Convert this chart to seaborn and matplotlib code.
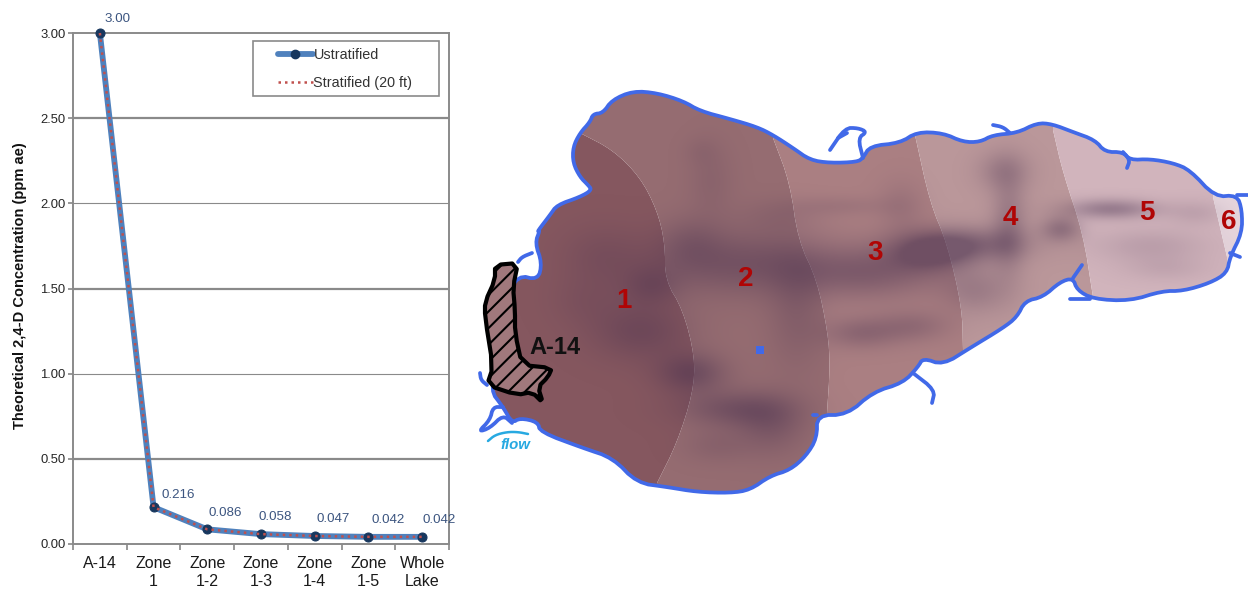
import numpy as np
import pandas as pd
import matplotlib
matplotlib.use('Agg')
import matplotlib.pyplot as plt
from matplotlib.patches import Polygon, Rectangle
from matplotlib.lines import Line2D
import seaborn as sns

categories = ['A-14', 'Zone\n1', 'Zone\n1-2', 'Zone\n1-3', 'Zone\n1-4', 'Zone\n1-5', 'Whole\nLake']
unstratified = [3.00, 0.216, 0.086, 0.058, 0.047, 0.042, 0.042]
stratified = [3.00, 0.216, 0.086, 0.058, 0.047, 0.042, 0.042]
value_labels = ['3.00', '0.216', '0.086', '0.058', '0.047', '0.042', '0.042']
y_ticks = [0, 0.5, 1.0, 1.5, 2.0, 2.5, 3.0]

# map shapes, in picture pixels
lake = [(540, 230), (537, 232), (550, 215), (557, 205), (580, 197), (592, 190), (588, 185),
        (580, 177), (573, 163), (573, 147), (580, 133), (590, 122), (593, 114), (603, 113), (612, 100),
        (633, 91), (657, 93), (683, 101), (700, 111), (730, 119), (757, 127), (773, 135), (793, 148),
        (810, 160), (830, 163), (857, 162), (863, 158), (870, 146), (900, 143), (917, 132), (943, 133),
        (963, 142), (980, 142), (993, 135), (1017, 133), (1037, 123), (1052, 124), (1073, 132), (1095, 140),
        (1105, 152), (1123, 152), (1130, 160), (1150, 159), (1173, 163), (1190, 170), (1215, 197), (1237, 195),
        (1242, 210), (1242, 233), (1230, 257), (1227, 273), (1210, 283), (1183, 291), (1162, 291), (1130, 301),
        (1093, 299), (1077, 290), (1073, 278), (1060, 282), (1043, 297), (1025, 301), (1017, 317), (1003, 328),
        (970, 348), (943, 365), (923, 358), (918, 367), (903, 383), (873, 392), (847, 415), (817, 415),
        (817, 438), (806, 456), (790, 470), (770, 476), (750, 490), (730, 493), (697, 492), (667, 487),
        (637, 483), (613, 458), (583, 448), (540, 432), (538, 422), (520, 418), (512, 423), (503, 407),
        (490, 390), (500, 360), (505, 300), (518, 275), (538, 280), (542, 263), (535, 243)]
a14 = [(495, 265), (518, 263), (513, 287), (515, 310), (515, 333), (522, 365), (552, 368), (548, 377),
       (538, 387), (543, 403), (532, 392), (517, 395), (487, 385), (493, 367), (485, 317), (485, 302), (495, 280)]
zone_edges = [
    [(580, 133), (613, 150), (640, 177), (657, 210), (665, 243), (665, 280), (683, 310), (695, 357), (693, 393), (677, 443), (657, 483)],
    [(773, 138), (790, 183), (798, 240), (817, 280), (828, 333), (830, 367), (827, 413)],
    [(915, 135), (930, 203), (947, 243), (962, 307), (963, 350)],
    [(1053, 130), (1063, 173), (1083, 233), (1093, 297)],
    [(1213, 197), (1227, 257)],
]
zone_colors = ['#85575f', '#956c71', '#aa7f82', '#ba979a', '#d1b4bc', '#e6d5dc']
zone_names = ['1', '2', '3', '4', '5', '6']
zone_label_x = [624, 746, 875, 1010, 1147, 1229]
zone_label_y = [301, 279, 253, 218, 213, 222]
# darker patches: x, y, x spread, y spread, strength
patches_dark = [(640, 330, 34, 20, .38), (690, 372, 24, 14, .5), (600, 255, 28, 22, .18), (585, 300, 25, 18, .14),
                (650, 285, 20, 14, .3), (710, 180, 16, 26, .14), (700, 150, 12, 10, .08), (740, 262, 70, 22, .42),
                (690, 240, 22, 18, .2), (735, 408, 40, 13, .42), (770, 425, 24, 20, .3), (795, 310, 20, 40, .22),
                (715, 445, 24, 12, .16), (780, 215, 30, 12, .12),
                (930, 250, 30, 14, .58), (870, 272, 50, 18, .38), (860, 332, 26, 11, .3), (912, 325, 26, 11, .25),
                (840, 205, 36, 7, .12), (900, 205, 16, 18, .15), (1003, 170, 18, 14, .26), (1008, 225, 12, 34, .3),
                (975, 243, 38, 12, .38), (1060, 228, 14, 9, .36), (975, 290, 24, 16, .24),
                (1110, 208, 32, 7, .42), (1150, 245, 40, 12, .16), (1195, 212, 20, 9, .13), (1165, 268, 30, 9, .1)]


def smooth(points, rounds=2, closed=True):
    pts = np.array(points, float)
    for _ in range(rounds):
        nxt = np.roll(pts, -1, axis=0)
        q = 0.75 * pts + 0.25 * nxt
        r = 0.25 * pts + 0.75 * nxt
        if closed:
            pts = np.column_stack([q, r]).reshape(-1, 2)
        else:
            mid = np.column_stack([q[:-1], r[:-1]]).reshape(-1, 2)
            pts = np.vstack([pts[0], mid, pts[-1]])
    return pts


sns.set_theme(style='white')
plt.rcParams['font.family'] = ['Liberation Sans', 'DejaVu Sans']
plt.rcParams['hatch.linewidth'] = 1.5

fig = plt.figure(figsize=(12.48, 5.90), dpi=100, facecolor='white')

# map
mp = fig.add_axes([0, 0, 1, 1], zorder=1)
mp.set_xlim(0, 1248)
mp.set_ylim(590, 0)
mp.axis('off')

blue = '#4169e8'
lake_smooth = smooth(lake, 2)
outline = Polygon(lake_smooth, closed=True, facecolor='none', edgecolor=blue, lw=2.7, zorder=5, joinstyle='round')
clip = Polygon(lake_smooth, closed=True, transform=mp.transData)

edges = [[tuple(q) for q in smooth(e, 2, closed=False)] for e in zone_edges]
for i in range(6):
    if i == 0:
        poly = [(470, 50), (edges[0][0][0], 50)] + edges[0] + [(edges[0][-1][0], 540), (470, 540)]
    elif i < 5:
        a, b = edges[i - 1], edges[i]
        poly = [(a[0][0], 50), (b[0][0], 50)] + b + [(b[-1][0], 540), (a[-1][0], 540)] + a[::-1]
    else:
        a = edges[4]
        poly = [(a[0][0], 50), (1248, 50), (1248, 540), (a[-1][0], 540)] + a[::-1]
    p = Polygon(poly, closed=True, facecolor=zone_colors[i], edgecolor='none', zorder=2)
    mp.add_patch(p)
    p.set_clip_path(clip)

gx, gy = np.meshgrid(np.arange(470, 1248, 2), np.arange(80, 500, 2))
shade = np.zeros(gx.shape)
for x, y, sx, sy, s in patches_dark:
    shade += s * np.exp(-((gx - x) / sx) ** 2 / 2 - ((gy - y) / sy) ** 2 / 2)
rgba = np.zeros(gx.shape + (4,))
rgba[..., :3] = (0.29, 0.19, 0.31)
rgba[..., 3] = np.clip(shade, 0, 0.6)
im = mp.imshow(rgba, extent=(470, 1248, 500, 80), origin='upper', zorder=3, aspect='auto', interpolation='bilinear')
im.set_clip_path(clip)
mp.set_xlim(0, 1248)
mp.set_ylim(590, 0)
mp.add_patch(outline)

inlets = [[(863, 158), (858, 138), (867, 132), (858, 128), (845, 128), (830, 150)],
          [(847, 133), (838, 138)],
          [(993, 125), (1003, 127), (1010, 133)],
          [(1123, 152), (1130, 160), (1127, 168)],
          [(1237, 195), (1248, 195)],
          [(1230, 253), (1240, 257)],
          [(1073, 278), (1082, 265)],
          [(1090, 299), (1070, 299)],
          [(913, 373), (935, 390), (932, 403)],
          [(817, 415), (813, 415)],
          [(518, 262), (522, 257), (532, 253)],
          [(480, 373), (481, 380), (487, 385)],
          [(503, 407), (493, 407), (490, 420), (478, 432), (490, 428), (503, 415), (512, 423)]]
for line in inlets:
    pts = smooth(line, 2, closed=False)
    mp.plot(pts[:, 0], pts[:, 1], color=blue, lw=2.7, solid_capstyle='round', zorder=5)
mp.scatter([760], [350], s=30, color=blue, marker='s', zorder=5, lw=0)

a14_smooth = smooth(a14, 1)
mp.add_patch(Polygon(a14_smooth, closed=True, facecolor='#a0787c', edgecolor='black', lw=0, hatch='//', zorder=6))
mp.add_patch(Polygon(a14_smooth, closed=True, facecolor='none', edgecolor='black', lw=3, zorder=7, joinstyle='round'))
mp.text(555, 347, 'A-14', fontsize=17, fontweight='bold', color='#111111', ha='center', va='center', zorder=8)

for name, x, y in zip(zone_names, zone_label_x, zone_label_y):
    mp.text(x, y, name, fontsize=20, fontweight='bold', color='#b00505', ha='center', va='center', zorder=8)

arc = smooth([(488, 441), (495, 435), (507, 432), (518, 432), (528, 434)], 2, closed=False)
mp.plot(arc[:, 0], arc[:, 1], color='#27a9e1', lw=1.8, zorder=8)
mp.text(515, 445, 'flow', fontsize=10.8, style='italic', fontweight='bold', color='#27a9e1', ha='center', va='center', zorder=8)

# chart
ax = fig.add_axes([73 / 1248, 1 - 544 / 590, (449 - 73) / 1248, (544 - 33) / 590], zorder=2)
df = pd.DataFrame({'pos': range(len(categories)), 'unstratified': unstratified, 'stratified': stratified})
sns.lineplot(data=df, x='pos', y='unstratified', ax=ax, color='#4f81bd', lw=4.2, marker='o', markersize=6.5,
             markerfacecolor='#17375e', markeredgecolor='#17375e', clip_on=False, zorder=4)
sns.lineplot(data=df, x='pos', y='stratified', ax=ax, color='#c0504d', lw=1.8, ls=(0, (1, 1.6)), clip_on=False, zorder=5)

ax.set_xlim(-0.5, 6.5)
ax.set_ylim(0, 3)
ax.set_xticks(range(len(categories)))
ax.set_xticklabels(categories, fontsize=11.5, color='#1a1a1a', linespacing=1.25)
ax.set_xticks(np.arange(-0.5, 7, 1), minor=True)
ax.tick_params(axis='x', which='major', length=0, pad=9)
ax.tick_params(axis='x', which='minor', length=4, width=1.2, color='#868686', bottom=True)
ax.set_yticks(y_ticks)
ax.set_yticklabels(['%.2f' % t for t in y_ticks], fontsize=9.4, color='#262626')
ax.tick_params(axis='y', length=3.5, width=1.2, color='#868686', left=True, pad=2)
ax.set_xlabel('')
ax.set_ylabel('Theoretical 2,4-D Concentration (ppm ae)', fontsize=10.5, fontweight='bold', color='#111111')
ax.yaxis.set_label_coords(-0.123, 0.505)

for t in y_ticks[1:-1]:
    ax.axhline(t, color='#8a8a8a', lw=1.6 if t in (0.5, 1.5, 2.5) else 0.8, zorder=1)
for s in ax.spines.values():
    s.set_color('#8a8a8a')
    s.set_linewidth(1.4)
    s.set_visible(True)

offsets = [(13, 10), (18, 9), (13, 12), (10, 12), (13, 12), (14, 12), (12, 12)]
for i, (lab, off) in enumerate(zip(value_labels, offsets)):
    ax.annotate(lab, (i, unstratified[i]), xytext=off, textcoords='offset points', ha='center', va='center',
                fontsize=9.6, color='#3c5580', annotation_clip=False, zorder=6)

ax.add_patch(Rectangle(((253 - 73) / 376, 1 - 96 / 511 + 33 / 511), 186 / 376, 55 / 511, transform=ax.transAxes,
                       facecolor='white', edgecolor='#8a8a8a', lw=1.2, zorder=3))
handles = [Line2D([], [], color='#4f81bd', lw=4.2, marker='o', markersize=6, markerfacecolor='#17375e', markeredgecolor='#17375e'),
           Line2D([], [], color='#c0504d', lw=1.8, ls=(0, (1, 1.6)))]
leg = ax.legend(handles, ['Ustratified', 'Stratified (20 ft)'], loc='upper left',
                bbox_to_anchor=((278 - 73) / 376, 1 - 15 / 511), borderaxespad=0, borderpad=0, frameon=False,
                fontsize=10.4, handlelength=2.4, handletextpad=0.05, labelspacing=0.95, labelcolor='#333333')

fig.savefig('out.png', dpi=100)
